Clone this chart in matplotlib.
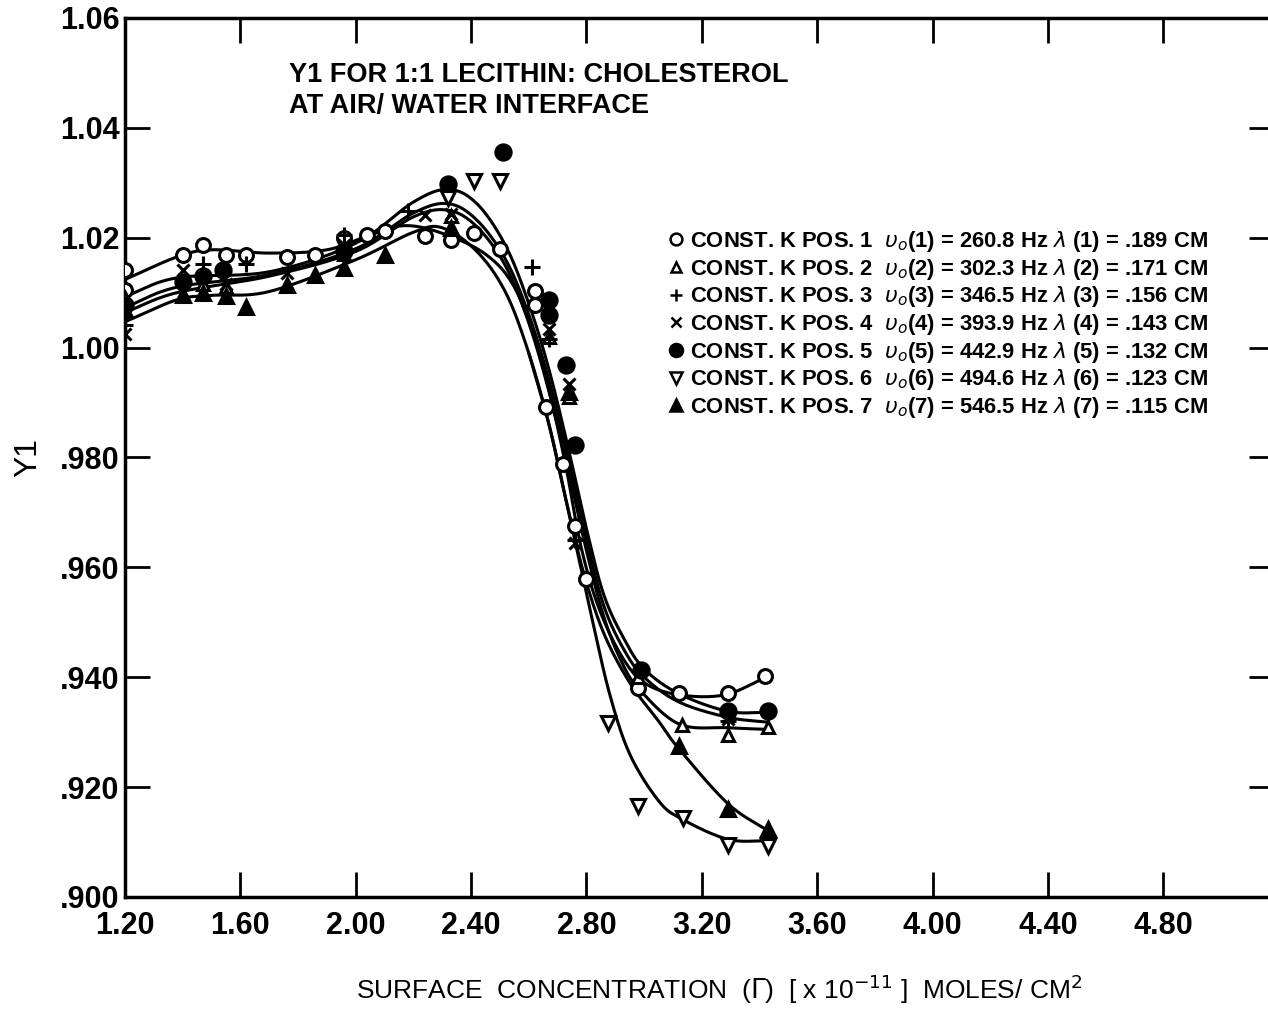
import numpy as np
import matplotlib
matplotlib.use("Agg")
import matplotlib.pyplot as plt
from matplotlib.lines import Line2D

plt.rcParams['font.family'] = ['Liberation Sans', 'DejaVu Sans']
plt.rcParams['mathtext.fontset'] = 'dejavusans'

# measured points, one array pair per position
x1 = [1.20, 1.20, 1.40, 1.47, 1.55, 1.62, 1.76, 1.86, 1.96, 2.04, 2.10, 2.24, 2.33, 2.41,
      2.50, 2.62, 2.62, 2.66, 2.72, 2.76, 2.80, 2.98, 3.12, 3.29, 3.42]
y1 = [1.0142, 1.0105, 1.0169, 1.0187, 1.0169, 1.0169, 1.0164, 1.0169, 1.0200, 1.0205, 1.0213,
      1.0204, 1.0196, 1.0208, 1.0180, 1.0103, 1.0078, 0.9891, 0.9789, 0.9675, 0.9578, 0.9380,
      0.9372, 0.9372, 0.9402]
x2 = [1.20, 1.47, 1.55, 1.96, 2.33, 2.67, 2.74, 2.98, 3.13, 3.29, 3.43]
y2 = [1.0090, 1.0115, 1.0110, 1.0170, 1.0240, 1.0020, 0.9910, 0.9400, 0.9313, 0.9295, 0.9309]
x3 = [1.20, 1.47, 1.62, 1.96, 2.18, 2.61, 2.67, 2.76, 3.29]
y3 = [1.0042, 1.0152, 1.0152, 1.0205, 1.0248, 1.0147, 1.0015, 0.9650, 0.9320]
x4 = [1.20, 1.40, 1.55, 1.76, 1.96, 2.24, 2.33, 2.67, 2.74, 2.76, 3.29]
y4 = [1.0024, 1.0142, 1.0115, 1.0135, 1.0187, 1.0242, 1.0243, 1.0033, 0.9933, 0.9645, 0.9324]
x5 = [1.20, 1.40, 1.47, 1.54, 1.96, 2.32, 2.51, 2.67, 2.67, 2.73, 2.76, 2.99, 3.29, 3.43]
y5 = [1.0078, 1.0120, 1.0130, 1.0142, 1.0175, 1.0298, 1.0356, 1.0087, 1.0060, 0.9969, 0.9822,
      0.9414, 0.9338, 0.9338]
x6 = [2.32, 2.41, 2.50, 2.875, 2.98, 3.135, 3.29, 3.43]
y6 = [1.0272, 1.0304, 1.0304, 0.9316, 0.9166, 0.9144, 0.9095, 0.9093]
x7 = [1.20, 1.40, 1.47, 1.55, 1.62, 1.76, 1.86, 1.96, 2.10, 2.33, 2.74, 3.12, 3.29, 3.43]
y7 = [1.0069, 1.0096, 1.0100, 1.0093, 1.0073, 1.0114, 1.0133, 1.0145, 1.0169, 1.0218, 0.9920,
      0.9275, 0.9160, 0.9124]

# hand drawn fit curves (knots)
cA_x = [1.20, 1.38, 1.50, 1.70, 1.90, 2.05, 2.17, 2.30, 2.45, 2.55, 2.63, 2.68, 2.73, 2.78,
        2.84, 2.92, 3.00, 3.12, 3.28, 3.43]
cA_y = [1.0124, 1.0165, 1.0178, 1.0172, 1.0178, 1.0205, 1.0222, 1.0208, 1.0170, 1.0110, 1.0000,
        0.9900, 0.9780, 0.9640, 0.9530, 0.9440, 0.9390, 0.9368, 0.9368, 0.9402]
cB_x = [1.20, 1.38, 1.70, 2.00, 2.20, 2.32, 2.42, 2.52, 2.60, 2.67, 2.74, 2.80, 2.86, 2.93,
        3.00, 3.12, 3.29, 3.43]
cB_y = [1.0093, 1.0127, 1.0138, 1.0190, 1.0265, 1.0288, 1.0262, 1.0185, 1.0080, 0.9960, 0.9810,
        0.9670, 0.9550, 0.9470, 0.9415, 0.9370, 0.9338, 0.9336]
cC_x = [1.20, 1.38, 1.70, 2.00, 2.20, 2.32, 2.42, 2.52, 2.60, 2.67, 2.74, 2.80, 2.86, 2.93,
        3.00, 3.12, 3.29, 3.43]
cC_y = [1.0073, 1.0110, 1.0133, 1.0180, 1.0245, 1.0262, 1.0232, 1.0160, 1.0060, 0.9940, 0.9790,
        0.9650, 0.9530, 0.9450, 0.9400, 0.9355, 0.9327, 0.9318]
cD_x = [1.20, 1.38, 1.70, 2.00, 2.20, 2.32, 2.42, 2.52, 2.60, 2.67, 2.74, 2.80, 2.86, 2.92,
        2.98, 3.12, 3.29, 3.43]
cD_y = [1.0064, 1.0100, 1.0130, 1.0175, 1.0238, 1.0250, 1.0220, 1.0148, 1.0045, 0.9920, 0.9770,
        0.9630, 0.9510, 0.9430, 0.9380, 0.9315, 0.9308, 0.9305]
cE_x = [1.20, 1.38, 1.50, 1.70, 2.00, 2.20, 2.30, 2.42, 2.52, 2.60, 2.67, 2.73, 2.79, 2.86,
        2.95, 3.05, 3.12, 3.29, 3.43]
cE_y = [1.0047, 1.0087, 1.0095, 1.0102, 1.0160, 1.0210, 1.0218, 1.0175, 1.0100, 0.9990, 0.9860,
        0.9720, 0.9590, 0.9480, 0.9390, 0.9320, 0.9270, 0.9170, 0.9120]
cF_x = [2.60, 2.67, 2.73, 2.78, 2.82, 2.88, 2.95, 3.05, 3.13, 3.29, 3.43]
cF_y = [0.9990, 0.9860, 0.9720, 0.9600, 0.9505, 0.9370, 0.9260, 0.9175, 0.9142, 0.9105, 0.9102]

labels = [
    r"CONST. K POS. 1  $\upsilon_o$(1) = 260.8 Hz $\lambda$ (1) = .189 CM",
    r"CONST. K POS. 2  $\upsilon_o$(2) = 302.3 Hz $\lambda$ (2) = .171 CM",
    r"CONST. K POS. 3  $\upsilon_o$(3) = 346.5 Hz $\lambda$ (3) = .156 CM",
    r"CONST. K POS. 4  $\upsilon_o$(4) = 393.9 Hz $\lambda$ (4) = .143 CM",
    r"CONST. K POS. 5  $\upsilon_o$(5) = 442.9 Hz $\lambda$ (5) = .132 CM",
    r"CONST. K POS. 6  $\upsilon_o$(6) = 494.6 Hz $\lambda$ (6) = .123 CM",
    r"CONST. K POS. 7  $\upsilon_o$(7) = 546.5 Hz $\lambda$ (7) = .115 CM",
]
xticks = [1.20, 1.60, 2.00, 2.40, 2.80, 3.20, 3.60, 4.00, 4.40, 4.80]
xticklabels = ["1.20", "1.60", "2.00", "2.40", "2.80", "3.20", "3.60", "4.00", "4.40", "4.80"]
yticks = [0.900, 0.920, 0.940, 0.960, 0.980, 1.00, 1.02, 1.04, 1.06]
yticklabels = [".900", ".920", ".940", ".960", ".980", "1.00", "1.02", "1.04", "1.06"]


def smooth(xs, ys, n=24):
    # catmull-rom through the knots
    p = np.column_stack([xs, ys])
    p = np.vstack([2 * p[0] - p[1], p, 2 * p[-1] - p[-2]])
    t = np.linspace(0, 1, n, endpoint=False)[:, None]
    out = []
    for i in range(1, len(p) - 2):
        p0, p1, p2, p3 = p[i - 1], p[i], p[i + 1], p[i + 2]
        seg = 0.5 * ((2 * p1) + (-p0 + p2) * t + (2 * p0 - 5 * p1 + 4 * p2 - p3) * t ** 2
                     + (-p0 + 3 * p1 - 3 * p2 + p3) * t ** 3)
        out.append(seg)
    out.append(p[-2][None, :])
    out = np.vstack(out)
    return out[:, 0], out[:, 1]


fig = plt.figure(figsize=(12.68, 10.15), dpi=100)
ax = fig.add_axes([0.0986, 0.1163, 0.9064, 0.866])

for cx, cy in [(cA_x, cA_y), (cB_x, cB_y), (cC_x, cC_y), (cD_x, cD_y), (cE_x, cE_y), (cF_x, cF_y)]:
    sx, sy = smooth(cx, cy)
    ax.plot(sx, sy, color='black', lw=2.2, zorder=2)

series = [
    (x1, y1, dict(marker='o', mfc='white', ms=10)),
    (x2, y2, dict(marker='^', mfc='white', ms=9)),
    (x3, y3, dict(marker='+', ms=11)),
    (x4, y4, dict(marker='x', ms=8)),
    (x5, y5, dict(marker='o', mfc='black', ms=11)),
    (x6, y6, dict(marker='v', mfc='white', ms=10)),
    (x7, y7, dict(marker='^', mfc='black', ms=10)),
]
handles = []
for xs, ys, st in series:
    ax.plot(xs, ys, ls='none', color='black', mec='black', mew=2.2, zorder=3, **st)
    handles.append(Line2D([], [], ls='none', color='black', mec='black', mew=1.8,
                          **{**st, 'ms': st['ms'] * 0.85}))

ax.legend(handles, labels, loc='upper left', bbox_to_anchor=(0.521, 0.783),
          bbox_transform=fig.transFigure, frameon=False, handlelength=0.6,
          handletextpad=0.35, labelspacing=0.12, borderaxespad=0,
          prop=dict(size=15.8, weight='bold'))

ax.set_xlim(1.20, 5.185)
ax.set_ylim(0.900, 1.06)
ax.set_xticks(xticks)
ax.set_xticklabels(xticklabels)
ax.set_yticks(yticks)
ax.set_yticklabels(yticklabels)
ax.tick_params(direction='in', length=18, width=2, top=True, right=True, labelsize=22)
ax.tick_params(axis='x', pad=10)
ax.tick_params(axis='y', pad=4)
for lab in ax.get_xticklabels() + ax.get_yticklabels():
    lab.set_fontweight('bold')
for s in ax.spines.values():
    s.set_linewidth(2.5)

fig.text(0.228, 0.926, "Y1 FOR 1:1 LECITHIN: CHOLESTEROL", fontsize=19.5, fontweight='bold',
         va='center')
fig.text(0.228, 0.896, "AT AIR/ WATER INTERFACE", fontsize=19.5, fontweight='bold', va='center')

ax.set_ylabel("Y1", fontsize=23, labelpad=12)
fig.text(0.567, 0.025, r"SURFACE  CONCENTRATION  ($\Gamma$)  [ x 10$^{-11}$ ]  MOLES/ CM$^2$",
         fontsize=19, ha='center', va='center')

fig.savefig("out.png", dpi=100)
